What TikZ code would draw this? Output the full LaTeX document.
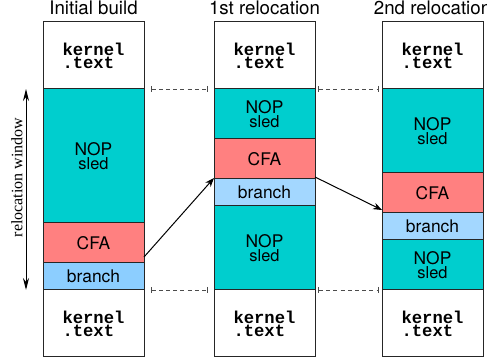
\documentclass[tikz,border=0pt]{standalone}
\usepackage{fontspec}
\setmainfont{TeX Gyre Heros}
\newfontfamily\monof{Liberation Mono}
\newfontfamily\seriff{Liberation Serif}
\usepackage{tikz}
\usetikzlibrary{arrows,arrows.meta,calc,positioning}
\definecolor{nopcol}{RGB}{0,206,206}
\definecolor{cfacol}{RGB}{255,128,128}
\definecolor{brcol}{RGB}{140,206,255}
\definecolor{brcolb}{RGB}{163,215,255}
\tikzset{%
	block/.style   = {draw=black!85, line width=0.5pt, rectangle, minimum width=50.5pt, inner sep=0pt, outer sep=0pt},
	kblock/.style  = {block, fill=white, minimum height=33.5pt, align=left, font={\fontsize{8.6}{6.4}\monof\bfseries\lineskiplimit=-20pt}},
	nop/.style     = {block, fill=nopcol, align=center, font={\fontsize{8.7}{6.7}\selectfont\lineskiplimit=-20pt}},
	cfa/.style     = {block, fill=cfacol, minimum height=20pt, font=\fontsize{8.7}{10}\selectfont},
	brnch/.style   = {block, fill=brcol, minimum height=13.5pt, font=\fontsize{8.7}{10}\selectfont},
	title/.style   = {inner sep=0pt, font=\fontsize{9.35}{11}\selectfont},
	shiftline/.style = {draw=black!70, line width=0.4pt, dash pattern=on 2pt off 1.6pt, {Bar[width=3pt]}-{Bar[width=3pt]}},
	reloc/.style   = {line width=0.5pt, -{Stealth[length=4.5pt,width=3.4pt]}},
}
\newcommand{\sled}{\fontsize{8.2}{6.7}\selectfont sled}
\begin{document}
\begin{tikzpicture}[x=1pt,y=1pt]
	\useasboundingbox (0,0) rectangle (243.5,-181);
	% Initial build
	\node[kblock, anchor=north west] (kA) at (21.5,-11) {kernel\\.text};
	\node[nop, minimum height=67pt, below=0pt of kA] (nA) {NOP\\{\sled}};
	\node[cfa, below=0pt of nA] (cA) {CFA};
	\node[brnch, below=0pt of cA] (bA) {branch};
	\node[kblock, below=0pt of bA] (kA2) {kernel\\.text};
	\node[title, above=3.2pt of kA] (tA) {Initial build};
	% 1st relocation
	\node[kblock, right=35pt of kA] (kB) {kernel\\.text};
	\node[nop, minimum height=25pt, below=0pt of kB] (nB) {NOP\\{\sled}};
	\node[cfa, below=0pt of nB] (cB) {CFA};
	\node[brnch, fill=brcolb, below=0pt of cB] (bB) {branch};
	\node[nop, minimum height=42pt, below=0pt of bB] (nB2) {NOP\\{\sled}};
	\node[kblock, below=0pt of nB2] (kB2) {kernel\\.text};
	\node[title, above=3.2pt of kB] (tB) {1st relocation};
	% 2nd relocation
	\node[kblock, right=33.5pt of kB] (kC) {kernel\\.text};
	\node[nop, minimum height=42pt, below=0pt of kC] (nC) {NOP\\{\sled}};
	\node[cfa, below=0pt of nC] (cC) {CFA};
	\node[brnch, fill=brcolb, below=0pt of cC] (bC) {branch};
	\node[nop, minimum height=25pt, below=0pt of bC] (nC2) {NOP\\{\sled}};
	\node[kblock, below=0pt of nC2] (kC2) {kernel\\.text};
	\node[title, above=3.2pt of kC] (tC) {2nd relocation};
	% window borders
	\draw[shiftline] ([xshift=3.5pt]kA.south east) -- ([xshift=-3pt]kB.south west);
	\draw[shiftline] ([xshift=3.5pt]kA2.north east) -- ([xshift=-3pt]kB2.north west);
	\draw[shiftline] ([xshift=1.7pt]kB.south east) -- ([xshift=-1.7pt]kC.south west);
	\draw[shiftline] ([xshift=1.7pt]kB2.north east) -- ([xshift=-1.7pt]kC2.north west);
	% relocation window
	\draw[line width=0.5pt, {Stealth[length=6pt,width=3pt]}-{Stealth[length=6pt,width=3pt]}] ([xshift=-8.5pt]kA2.north west) -- ([xshift=-8.5pt]kA.south west)
		node[pos=0.56, above, sloped, inner sep=1.5pt, font={\fontsize{8}{9}\seriff}] (rw) {relocation window};
	% CFA moves
	\draw[reloc] ([yshift=3pt]cA.south east) -- ([yshift=0.5pt]cB.south west);
	\draw[reloc] ([yshift=1pt]cB.south east) -- ([yshift=1.5pt]cC.south west);
\end{tikzpicture}
\end{document}
